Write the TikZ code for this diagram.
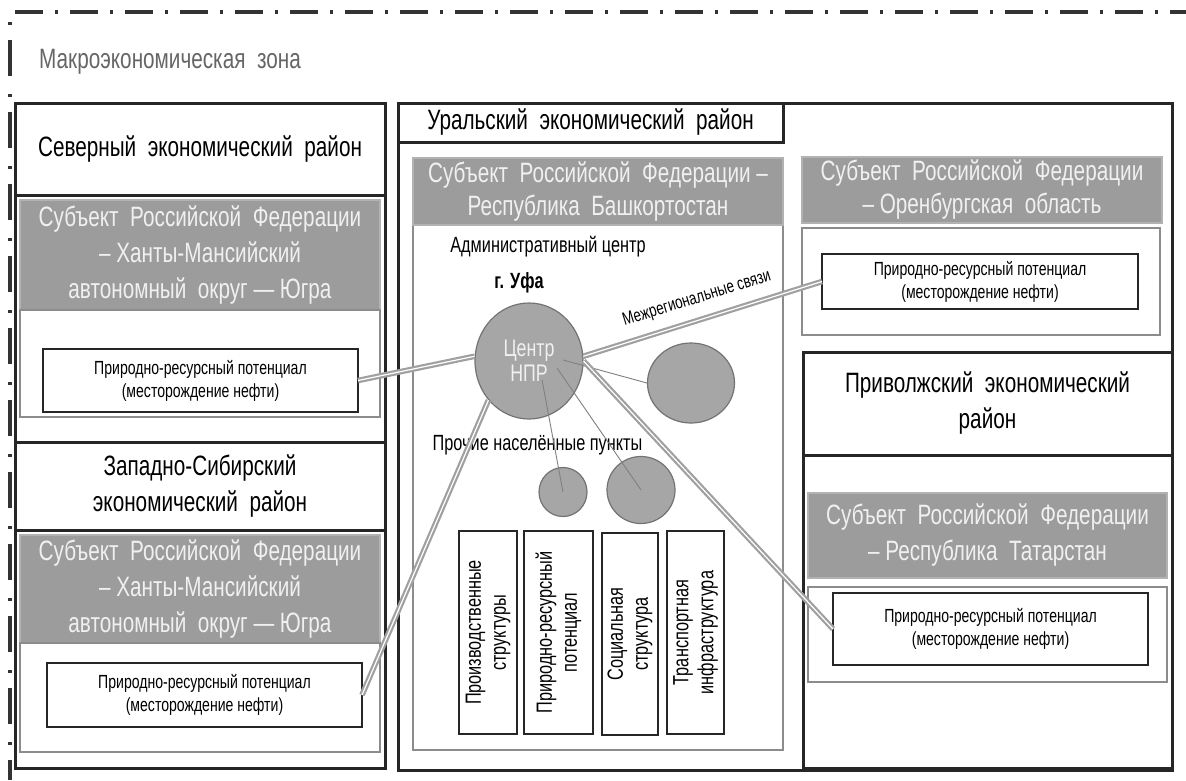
\documentclass[tikz,border=0pt]{standalone}
\usepackage{fontspec}
\setmainfont{Liberation Sans}[FakeStretch=0.74]
\usetikzlibrary{shapes.geometric}
\definecolor{boxgray}{HTML}{9C9C9C}
\definecolor{circgray}{HTML}{A6A6A6}
\definecolor{linegray}{HTML}{A0A0A0}
\begin{document}
\begin{tikzpicture}[x=1pt,y=-1pt,
  regbox/.style={draw=black!85, line width=3pt, fill=white, inner sep=0pt, outer sep=0pt, align=center, font=\fontsize{28}{36}\selectfont},
  graybox/.style={draw=black!30, line width=1.2pt, fill=boxgray, text=white!94!black, inner sep=0pt, outer sep=0pt, align=center, font=\fontsize{28}{36}\selectfont},
  subbox/.style={draw=black!45, line width=1.2pt, fill=white, inner sep=0pt, outer sep=0pt},
  prpbox/.style={draw=black!85, line width=1.5pt, fill=white, inner sep=0pt, outer sep=0pt, align=center, font=\fontsize{19}{23}\selectfont},
  vbox/.style={draw=black!85, line width=1.5pt, fill=white, inner sep=0pt, outer sep=0pt, align=center, rotate=90, font=\fontsize{22}{25}\selectfont},
  conn/.style={draw=linegray, line width=2.2pt, double=white, double distance=1.2pt},
  thinln/.style={draw=black!50, line width=0.9pt},
  blob/.style={ellipse, draw=black!55, line width=1.2pt, fill=circgray, inner sep=0pt},
  plain/.style={inner sep=0pt, align=center}]
\useasboundingbox (0,0) rectangle (1186,780);
\fill[white] (0,0) rectangle (1186,780);
% macro-zone border
\draw[black!80, line width=4pt, dash pattern=on 28pt off 12pt on 3pt off 12pt] (15,12) -- (1186,12);
\draw[black!80, line width=4pt, dash pattern=on 3pt off 15pt on 36pt off 18pt] (10,22) -- (10,780);
\node[plain, text=black!60, font=\fontsize{28}{32}\selectfont] (macro) at (170,62) {Макроэкономическая\ \ зона};

% left column: Northern
\node[regbox, minimum width=370, minimum height=92] (north) at (200,149) {Северный\ \ экономический\ \ район};
\node[regbox, minimum width=370, minimum height=247] (northlow) at (200,318.5) {};
\node[graybox, minimum width=360, minimum height=110] (khm1) at (200,255) {Субъект\ \ Российской\ \ Федерации\\– Ханты-Мансийский\\автономный\ \ округ — Югра};
\node[subbox, minimum width=360, minimum height=107] (khm1sub) at (200,363.5) {};
\node[prpbox, minimum width=315, minimum height=63] (prp1) at (200.5,380.5) {Природно-ресурсный потенциал\\(месторождение нефти)};

% left column: West Siberian
\node[regbox, minimum width=370, minimum height=88] (wsib) at (200,486) {Западно-Сибирский\\экономический\ \ район};
\node[regbox, minimum width=370, minimum height=238] (wsiblow) at (200,649) {};
\node[graybox, minimum width=360, minimum height=108] (khm2) at (200,589) {Субъект\ \ Российской\ \ Федерации\\– Ханты-Мансийский\\автономный\ \ округ — Югра};
\node[subbox, minimum width=360, minimum height=109] (khm2sub) at (200,697.5) {};
\node[prpbox, minimum width=315, minimum height=64] (prp2) at (204.5,695) {Природно-ресурсный потенциал\\(месторождение нефти)};

% Ural region
\node[regbox, minimum width=774, minimum height=667] (ural) at (785,436.5) {};
\node[regbox, minimum width=385, minimum height=39] (uraltitle) at (590.5,122.5) {Уральский\ \ экономический\ \ район};
\node[subbox, minimum width=370, minimum height=525] (bashsub) at (598,487.5) {};
\node[graybox, minimum width=370, minimum height=67, font=\fontsize{28}{33}\selectfont] (bash) at (598,191.5) {Субъект\ \ Российской\ \ Федерации –\\Республика\ \ Башкортостан};

% Orenburg
\node[graybox, minimum width=360, minimum height=66, font=\fontsize{28}{33}\selectfont] (oren) at (982,190) {Субъект\ \ Российской\ \ Федерации\\– Оренбургская\ \ область};
\node[subbox, minimum width=358, minimum height=107] (orensub) at (981,281.5) {};
\node[prpbox, minimum width=316, minimum height=55] (oprp) at (980,281.5) {Природно-ресурсный потенциал\\(месторождение нефти)};

% Volga region
\node[regbox, minimum width=369, minimum height=103] (volga) at (987.5,403.5) {Приволжский\ \ экономический\\район};
\node[regbox, minimum width=369, minimum height=313] (volgalow) at (987.5,611.5) {};
\node[graybox, minimum width=359, minimum height=85, font=\fontsize{28}{36}\selectfont] (tatar) at (987.5,535.5) {Субъект\ \ Российской\ \ Федерации\\– Республика\ \ Татарстан};
\node[subbox, minimum width=359, minimum height=95] (tatarsub) at (987.5,634.5) {};
\node[prpbox, minimum width=315, minimum height=72] (tprp) at (990.5,629) {Природно-ресурсный потенциал\\(месторождение нефти)};

% Bashkortostan contents
\node[plain, font=\fontsize{22}{26}\selectfont] (admin) at (548,247) {Административный центр};
\node[plain, font=\fontsize{22}{26}\bfseries\selectfont] (ufa) at (519,283) {г. Уфа};
\node[plain, font=\fontsize{22}{26}\selectfont] (other) at (537.5,445) {Прочие населённые пункты};

\node[vbox, minimum width=203, minimum height=58] (v1) at (488,632.5) {Производственные\\структуры};
\node[vbox, minimum width=203, minimum height=69] (v2) at (558.5,632.5) {Природно-ресурсный\\потенциал};
\node[vbox, minimum width=202, minimum height=56] (v3) at (630,634) {Социальная\\структура};
\node[vbox, minimum width=203, minimum height=57] (v4) at (695.5,632.5) {Транспортная\\инфраструктура};

% circles
\node[blob, minimum width=108, minimum height=116] (ctr) at (529,361) {};
\node[blob, minimum width=87, minimum height=80] (c2) at (691,383) {};
\node[blob, minimum width=48, minimum height=49] (c3) at (563,492) {};
\node[blob, minimum width=68, minimum height=67] (c4) at (641,490) {};
\node[plain, text=white!94!black, font=\fontsize{24}{25}\selectfont] (ctrtext) at (529,361) {Центр\\НПР};

% thin links
\coordinate (t1) at (563,360);
\coordinate (t2) at (542,380);
\coordinate (t3) at (557,368);
\draw[thinln] (t1) -- (c2.west);
\draw[thinln] (t2) -- (c3.center);
\draw[thinln] (t3) -- (c4.center);

% interregional links
\draw[conn] (prp1.east) -- (ctr.175);
\draw[conn] (ctr.5) -- (oprp.west);
\draw[conn] (ctr.224) -- (prp2.east);
\draw[conn] (ctr.0) -- (tprp.west);
\node[plain, rotate=17, font=\fontsize{18}{20}\selectfont] (mreg) at (697,299) {Межрегиональные связи};
\end{tikzpicture}
\end{document}
